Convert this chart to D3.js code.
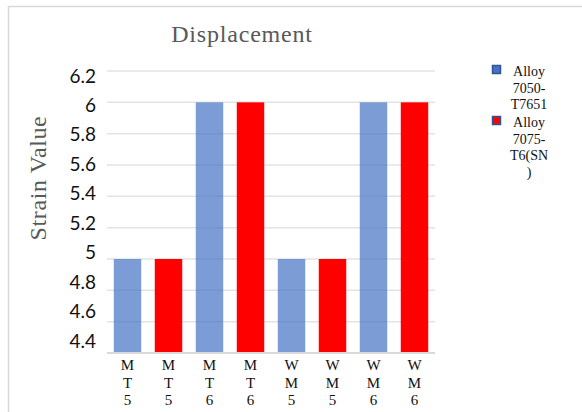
<!DOCTYPE html>
<html>
<head>
<meta charset="utf-8">
<script src="https://cdn.jsdelivr.net/npm/d3@7"></script>
<style>
  body { margin: 0; background: #fff; }
  svg { display: block; }
</style>
</head>
<body>
<div id="chart"></div>
<script>
// categories along the x axis (each label is stacked one letter per line)
const categories = ["MT5", "MT5", "MT6", "MT6", "WM5", "WM5", "WM6", "WM6"];
// series values, null where the series has no bar in that slot
const alloy7050 = [5, null, 6, null, 5, null, 6, null];
const alloy7075 = [null, 5, null, 6, null, 5, null, 6];
const seriesNames = [["Alloy", "7050-", "T7651"], ["Alloy", "7075-", "T6(SN", ")"]];
const yTicks = [4.4, 4.6, 4.8, 5, 5.2, 5.4, 5.6, 5.8, 6, 6.2];

const width = 582, height = 412;
const margin = {top: 71, right: 147, bottom: 59, left: 107};
const serif = "'Liberation Serif', 'Times New Roman', serif";

const svg = d3.select("#chart").append("svg")
    .attr("width", width)
    .attr("height", height);

// chart area border
svg.append("rect")
    .attr("x", 8.5).attr("y", 6.5)
    .attr("width", 600).attr("height", 420)
    .attr("fill", "none")
    .attr("stroke", "#d9d9d9")
    .attr("stroke-width", 1.5);

const x = d3.scaleBand()
    .domain(d3.range(categories.length))
    .range([margin.left, width - margin.right])
    .paddingInner(0.33)
    .paddingOuter(0.165);

const y = d3.scaleLinear()
    .domain([4.4, 6.2])
    .range([height - margin.bottom, margin.top]);

// the tick labels in the picture are spaced a bit tighter than the gridlines
const yLabel = d3.scaleLinear()
    .domain([4.4, 6.2])
    .range([341, 76]);

// gridlines
svg.append("g")
    .selectAll("line")
    .data(yTicks)
    .join("line")
    .attr("x1", margin.left)
    .attr("x2", width - margin.right)
    .attr("y1", d => y(d))
    .attr("y2", d => y(d))
    .attr("stroke", "#e3e3e3")
    .attr("stroke-width", 1.5);

// y tick labels
const yAxis = d3.axisLeft(yLabel).tickValues(yTicks).tickSize(0).tickPadding(11)
    .tickFormat(d => String(d));
svg.append("g")
    .attr("transform", `translate(${margin.left},0)`)
    .call(yAxis)
    .call(g => g.select(".domain").remove())
    .call(g => g.selectAll("text")
        .attr("font-family", "Lato, 'Liberation Sans', sans-serif")
        .attr("font-size", 19)
        .attr("fill", "#111"));

// bars
const series = [
    {values: alloy7050, color: "#4472c4", opacity: 0.7},
    {values: alloy7075, color: "#ff0000", opacity: 1}
];
series.forEach(s => {
    svg.append("g")
        .selectAll("rect")
        .data(s.values.map((v, i) => ({v, i})).filter(d => d.v !== null))
        .join("rect")
        .attr("x", d => x(d.i))
        .attr("width", x.bandwidth())
        .attr("y", d => y(d.v))
        .attr("height", d => y(4.4) - y(d.v))
        .attr("fill", s.color)
        .attr("fill-opacity", s.opacity);
});

// baseline
svg.append("line")
    .attr("x1", margin.left).attr("x2", width - margin.right)
    .attr("y1", y(4.4)).attr("y2", y(4.4))
    .attr("stroke", "#d9d9d9").attr("stroke-width", 2);

// x labels, one character per line
const xl = svg.append("g")
    .selectAll("text")
    .data(categories)
    .join("text")
    .attr("x", (d, i) => x(i) + x.bandwidth() / 2)
    .attr("y", 370)
    .attr("text-anchor", "middle")
    .attr("font-family", serif)
    .attr("font-size", 15)
    .attr("fill", "#111");
xl.selectAll("tspan")
    .data(d => d.split(""))
    .join("tspan")
    .attr("x", function() { return d3.select(this.parentNode).attr("x"); })
    .attr("dy", (d, i) => i === 0 ? 0 : 17.5)
    .text(d => d);

// title
svg.append("text")
    .attr("x", 242)
    .attr("y", 42)
    .attr("text-anchor", "middle")
    .attr("font-family", serif)
    .attr("font-size", 24)
    .attr("letter-spacing", 0.8)
    .attr("fill", "#595959")
    .text("Displacement");

// y axis title
svg.append("text")
    .attr("transform", "translate(46,178) rotate(-90)")
    .attr("text-anchor", "middle")
    .attr("font-family", serif)
    .attr("font-size", 24)
    .attr("letter-spacing", 0.6)
    .attr("fill", "#595959")
    .text("Strain Value");

// legend
const legendFill = ["#4472c4", "#ff0000"];
const legendTop = [65, 116];
const lineTops = [76, 127];
seriesNames.forEach((lines, k) => {
    svg.append("rect")
        .attr("x", 492.5).attr("y", legendTop[k] + 0.5)
        .attr("width", 8).attr("height", 8)
        .attr("fill", legendFill[k])
        .attr("stroke", "#2f5597")
        .attr("stroke-width", 1.5);
    svg.append("text")
        .attr("x", 529)
        .attr("y", lineTops[k])
        .attr("text-anchor", "middle")
        .attr("font-family", serif)
        .attr("font-size", 14)
        .attr("fill", "#111")
        .selectAll("tspan")
        .data(lines)
        .join("tspan")
        .attr("x", 529)
        .attr("dy", (d, i) => i === 0 ? 0 : 16.5)
        .text(d => d);
});
</script>
</body>
</html>
